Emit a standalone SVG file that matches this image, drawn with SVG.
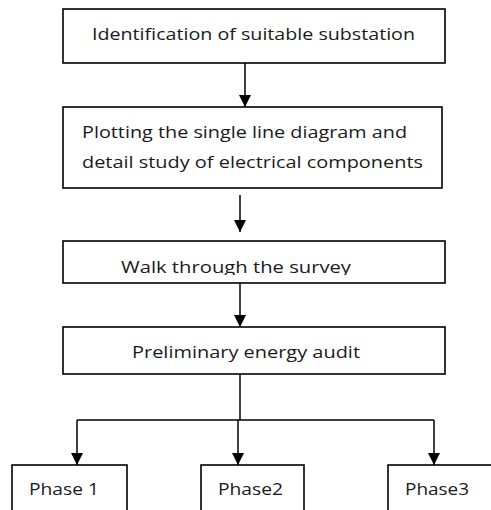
<svg xmlns="http://www.w3.org/2000/svg" width="491" height="510" viewBox="0 0 491 510">
<style>
.box{fill:#fff;stroke:#000;stroke-width:1.6}
.lbl{font-family:"Open Sans","Liberation Sans",sans-serif;font-size:17px;fill:#1a1a1a}
.con{fill:none;stroke:#000;stroke-width:1.5}
</style>
<defs>
<marker id="arr" viewBox="0 0 12 12" refX="12" refY="6" markerWidth="12" markerHeight="12" markerUnits="userSpaceOnUse" orient="auto">
<path d="M0,0 L12,6 L0,12 z" fill="#000"/>
</marker>
<clipPath id="clip3"><rect x="60" y="240" width="390" height="35"/></clipPath>
</defs>
<rect width="491" height="510" fill="#fff"/>
<g id="connectors">
<line class="con" x1="245" y1="63" x2="245" y2="107" marker-end="url(#arr)"/>
<line class="con" x1="240" y1="195" x2="240" y2="232" marker-end="url(#arr)"/>
<line class="con" x1="240" y1="283" x2="240" y2="327" marker-end="url(#arr)"/>
<polyline class="con" points="240,374 240,420"/>
<polyline class="con" points="77,420 434,420"/>
<line class="con" x1="77" y1="420" x2="77" y2="465" marker-end="url(#arr)"/>
<line class="con" x1="238" y1="420" x2="238" y2="465" marker-end="url(#arr)"/>
<line class="con" x1="434" y1="420" x2="434" y2="465" marker-end="url(#arr)"/>
</g>
<g id="n1">
<rect class="box" x="63" y="9" width="382" height="54"/>
<text class="lbl" x="92" y="40" textLength="323" lengthAdjust="spacingAndGlyphs">Identification of suitable substation</text>
</g>
<g id="n2">
<rect class="box" x="63" y="107" width="379" height="81"/>
<text class="lbl" x="82" y="138" textLength="325" lengthAdjust="spacingAndGlyphs">Plotting the single line diagram and</text>
<text class="lbl" x="82" y="168" textLength="341" lengthAdjust="spacingAndGlyphs">detail study of electrical components</text>
</g>
<g id="n3">
<rect class="box" x="63" y="241" width="382" height="42"/>
<text class="lbl" x="121" y="273" textLength="230" lengthAdjust="spacingAndGlyphs" clip-path="url(#clip3)">Walk through the survey</text>
</g>
<g id="n4">
<rect class="box" x="63" y="327" width="382" height="47"/>
<text class="lbl" x="132" y="358" textLength="228" lengthAdjust="spacingAndGlyphs">Preliminary energy audit</text>
</g>
<g id="p1">
<rect class="box" x="12" y="465" width="115" height="60"/>
<text class="lbl" x="29" y="495" textLength="70" lengthAdjust="spacingAndGlyphs">Phase 1</text>
</g>
<g id="p2">
<rect class="box" x="201" y="465" width="103" height="60"/>
<text class="lbl" x="218" y="495" textLength="65" lengthAdjust="spacingAndGlyphs">Phase2</text>
</g>
<g id="p3">
<rect class="box" x="388" y="465" width="120" height="60"/>
<text class="lbl" x="405" y="495" textLength="64" lengthAdjust="spacingAndGlyphs">Phase3</text>
</g>
</svg>
